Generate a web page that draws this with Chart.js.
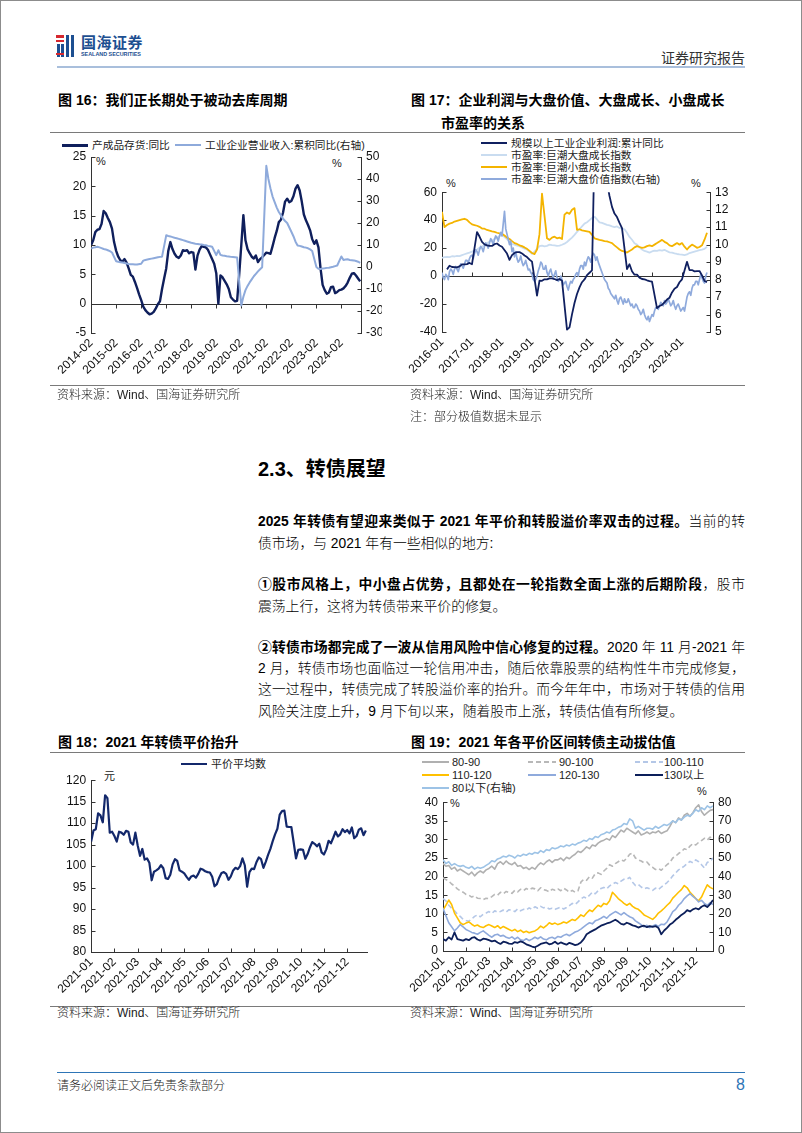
<!DOCTYPE html>
<html lang="zh-CN">
<head>
<meta charset="utf-8">
<title>转债展望</title>
<script src="https://cdn.jsdelivr.net/npm/chart.js@4.4.1/dist/chart.umd.min.js"></script>
<style>
  html, body { margin: 0; padding: 0; background: #fff; }
  body { position: relative; width: 802px; height: 1133px; overflow: hidden;
         font-family: "Liberation Sans", "Noto Sans CJK SC", sans-serif; color: #000; }
  .frame { position: absolute; left: 0; top: 0; width: 802px; height: 1133px; box-sizing: border-box; border: 1px solid #8c8c8c; }
  .t { position: absolute; white-space: nowrap; }
  .bar { position: absolute; }
  .rule { position: absolute; height: 1px; background: #7a7a7a; }
  .ttl { font-size: 14px; font-weight: bold; line-height: 18px; }
  .src { font-size: 12px; line-height: 16px; color: #222; font-weight: 300; }
  .lg { position: absolute; font-size: 10.7px; line-height: 12px; white-space: nowrap; color: #222; }
  .lg i { position: absolute; left: 0; top: 5px; height: 2px; }
  .unit { font-size: 11px; line-height: 12px; color: #222; }
  .body { position: absolute; left: 258px; width: 487px; font-size: 13.8px; line-height: 21px; font-weight: 300;
          text-align: justify; text-align-last: justify; }
  .body b { font-weight: bold; }
  .body.last { text-align-last: left; }
  .box { position: absolute; }
</style>
</head>
<body>
<div class="frame"></div>

<!-- header -->
<div class="bar" style="left:56px;top:35px;width:8px;height:2.5px;background:#d6282f"></div>
<div class="bar" style="left:56px;top:39.5px;width:8px;height:2.5px;background:#d6282f"></div>
<div class="bar" style="left:57px;top:44px;width:2.5px;height:13px;background:#1d4f91"></div>
<div class="bar" style="left:61px;top:44px;width:2.5px;height:13px;background:#1d4f91"></div>
<div class="bar" style="left:66px;top:35px;width:3px;height:22px;background:#1d4f91"></div>
<div class="bar" style="left:71px;top:35px;width:3px;height:22px;background:#1d4f91"></div>
<div class="bar" style="left:56px;top:53px;width:8px;height:2px;background:#d6282f"></div>
<div class="t" style="left:81px;top:34px;font-size:15px;line-height:18px;font-weight:bold;color:#1d4f91;letter-spacing:0.5px">国海证券</div>
<div class="t" style="left:81px;top:51px;font-size:5.4px;line-height:7px;font-weight:bold;color:#1d4f91">SEALAND SECURITIES</div>
<div class="t" style="left:661px;top:49px;font-size:14px;line-height:18px;color:#333">证券研究报告</div>
<div class="bar" style="left:57px;top:66px;width:688px;height:2px;background:#a9bfdc"></div>

<!-- figure 16 / 17 titles -->
<div class="t ttl" style="left:58px;top:91px">图 16：我们正长期处于被动去库周期</div>
<div class="t ttl" style="left:411px;top:91px">图 17：企业利润与大盘价值、大盘成长、小盘成长</div>
<div class="t ttl" style="left:441px;top:114px">市盈率的关系</div>
<div class="rule" style="left:50px;top:132px;width:695px"></div>

<!-- legend 16 -->
<div class="lg" style="left:62px;top:139px;padding-left:30px"><i style="width:26px;background:#0f1f5c;height:2.5px"></i>产成品存货:同比</div>
<div class="lg" style="left:175px;top:139px;padding-left:30px"><i style="width:26px;background:#8eaadb"></i>工业企业营业收入:累积同比(右轴)</div>
<div class="t unit" style="left:96px;top:155px">%</div>
<div class="t unit" style="left:332px;top:157px">%</div>
<div class="box" style="left:57px;top:136px"><canvas id="c16" width="325" height="250"></canvas></div>

<!-- legend 17 -->
<div class="lg" style="left:481px;top:136.5px;padding-left:30px"><i style="width:26px;background:#102060"></i>规模以上工业企业利润:累计同比</div>
<div class="lg" style="left:481px;top:148.5px;padding-left:30px"><i style="width:26px;background:#c9dcf0"></i>市盈率:巨潮大盘成长指数</div>
<div class="lg" style="left:481px;top:160.5px;padding-left:30px"><i style="width:26px;background:#f4b400"></i>市盈率:巨潮小盘成长指数</div>
<div class="lg" style="left:481px;top:172.5px;padding-left:30px"><i style="width:26px;background:#8faadc"></i>市盈率:巨潮大盘价值指数(右轴)</div>
<div class="t unit" style="left:446px;top:177px">%</div>
<div class="t unit" style="left:691px;top:177px">%</div>
<div class="box" style="left:405px;top:180px"><canvas id="c17" width="330" height="206"></canvas></div>

<div class="rule" style="left:50px;top:385px;width:695px"></div>
<div class="t src" style="left:57px;top:387px">资料来源：Wind、国海证券研究所</div>
<div class="t src" style="left:410px;top:387px">资料来源：Wind、国海证券研究所</div>
<div class="t src" style="left:410px;top:409px">注：部分极值数据未显示</div>

<!-- section text -->
<div class="t" style="left:258px;top:455px;font-size:20px;line-height:28px;font-weight:bold">2.3、转债展望</div>

<div class="body" style="top:511px"><b>2025 年转债有望迎来类似于 2021 年平价和转股溢价率双击的过程。</b>当前的转</div>
<div class="body last" style="top:532.5px">债市场，与 2021 年有一些相似的地方:</div>

<div class="body" style="top:574px"><b>①股市风格上，中小盘占优势，且都处在一轮指数全面上涨的后期阶段</b>，股市</div>
<div class="body last" style="top:595.5px">震荡上行，这将为转债带来平价的修复。</div>

<div class="body" style="top:636.5px"><b>②转债市场都完成了一波从信用风险中信心修复的过程。</b>2020 年 11 月-2021 年</div>
<div class="body" style="top:658px">2 月，转债市场也面临过一轮信用冲击，随后依靠股票的结构性牛市完成修复，</div>
<div class="body" style="top:679px">这一过程中，转债完成了转股溢价率的抬升。而今年年中，市场对于转债的信用</div>
<div class="body last" style="top:700.5px">风险关注度上升，9 月下旬以来，随着股市上涨，转债估值有所修复。</div>

<!-- figure 18 / 19 titles -->
<div class="t ttl" style="left:58px;top:732.5px">图 18：2021 年转债平价抬升</div>
<div class="t ttl" style="left:411px;top:732.5px">图 19：2021 年各平价区间转债主动拔估值</div>
<div class="rule" style="left:50px;top:752px;width:695px"></div>

<!-- legend 18 -->
<div class="lg" style="left:181px;top:757.5px;padding-left:30px;font-size:11px"><i style="width:26px;background:#13286b;height:2.5px"></i>平价平均数</div>
<div class="t unit" style="left:104px;top:770px">元</div>
<div class="box" style="left:57px;top:768px"><canvas id="c18" width="325" height="237"></canvas></div>

<!-- legend 19 -->
<div class="lg" style="left:422px;top:756px;padding-left:30px;font-size:11px"><i style="width:27px;background:#b0b0b0"></i>80-90</div>
<div class="lg" style="left:528px;top:756px;padding-left:31px;font-size:11px"><i style="width:28px;background:repeating-linear-gradient(90deg,#b8b8b8 0 5px,transparent 5px 8px)"></i>90-100</div>
<div class="lg" style="left:635px;top:756px;padding-left:29px;font-size:11px"><i style="width:28px;background:repeating-linear-gradient(90deg,#b4c7e7 0 5px,transparent 5px 8px)"></i>100-110</div>
<div class="lg" style="left:422px;top:769px;padding-left:30px;font-size:11px"><i style="width:27px;background:#ffc000"></i>110-120</div>
<div class="lg" style="left:528px;top:769px;padding-left:31px;font-size:11px"><i style="width:28px;background:#8faadc"></i>120-130</div>
<div class="lg" style="left:635px;top:769px;padding-left:29px;font-size:11px"><i style="width:28px;background:#0c1f5a"></i>130以上</div>
<div class="lg" style="left:422px;top:781.5px;padding-left:30px;font-size:11px"><i style="width:27px;background:#9dc3e6"></i>80以下(右轴)</div>
<div class="t unit" style="left:450px;top:797px">%</div>
<div class="t unit" style="left:697px;top:785px">%</div>
<div class="box" style="left:405px;top:790px"><canvas id="c19" width="330" height="215"></canvas></div>

<div class="rule" style="left:50px;top:1006px;width:695px"></div>
<div class="t src" style="left:57px;top:1005px">资料来源：Wind、国海证券研究所</div>
<div class="t src" style="left:410px;top:1005px">资料来源：Wind、国海证券研究所</div>

<!-- footer -->
<div class="bar" style="left:57px;top:1072px;width:688px;height:1px;background:#2e75b6"></div>
<div class="t src" style="left:57px;top:1078px">请务必阅读正文后免责条款部分</div>
<div class="t" style="left:736px;top:1075px;font-size:16px;line-height:20px;color:#2e75b6">8</div>

<script>
// ---------- 图16 ----------
const c16Ticks = ['2014-02', '2015-02', '2016-02', '2017-02', '2018-02', '2019-02',
  '2020-02', '2021-02', '2022-02', '2023-02', '2024-02'];
// 产成品存货:同比 (左轴), monthly from 2014-02
const invYoY = [
  10, 10.8, 12.2, 12.6, 12.7, 13.6, 15.8, 15.4, 14.6, 13.9, 12.8, 10.5,
  9, 8, 7.4, 7.2, 7.6, 7, 6, 4.9, 4.6, 3.7, 2.7, 1.6,
  0.6, -0.5, -1.1, -1.5, -1.8, -1.7, -1.4, -0.8, -0.1, 0.4, 2.5, 4.3,
  6, 9, 10.5, 9.3, 8.5, 8, 7.8, 8.2, 9.1, 9, 9.1, 8.6,
  8.8, 8.7, 5.8, 8.2, 9.2, 9.8, 9.7, 9.6, 9.2, 8.4, 7.6, 6.8,
  5.2, 0, 4.8, 4.5, 3.9, 3.3, 2.5, 1.1, 0.7, 0.4, 0.5, 5,
  10, 15.1, 10.8, 9.3, 8.6, 8, 7.7, 8.2, 7.1, 7.6, 7.9, 8.3,
  8.7, 8.6, 8.5, 9.8, 11.2, 12.4, 13.9, 14.3, 15.5, 17.4, 17.9, 17.3,
  17.5, 18.3, 19.6, 20.2, 19.3, 17.4, 15.2, 14.2, 13.4, 12.5, 11, 10.2,
  10.8, 9.6, 6, 3.2, 2.3, 1.7, 1.9, 2.8, 2.9, 1.8, 2, 2.3,
  2.4, 2.6, 3, 3.6, 4.4, 5.1, 5.2, 4.8, 4.3, 3.8
];
// 工业企业营业收入:累积同比 (右轴), January not published
const revYoY = [
  8.4, 8.8, 9, 9.2, 8.9, 8.6, 8.2, 8, 7.6, 7.2, 6.6, null,
  2.6, 2.4, 2.2, 2, 1.8, 1.6, 1.4, 1.3, 1.2, 1.1, 1.1, null,
  1.5, 2.9, 3.2, 3.4, 3.6, 3.8, 4, 4.2, 4.4, 4.6, 4.7, null,
  14.4, 14.1, 13.9, 13.6, 13.3, 13.1, 12.8, 12.5, 12.2, 11.9, 11.6, null,
  11, 10.8, 10.6, 10.5, 10.3, 10.2, 10, 9.9, 9.6, 9.4, 9.2, null,
  5.4, 7.6, 5.5, 5.2, 5.1, 4.9, 4.8, 4.6, 4.5, 4.4, 4.3, null,
  -17.5, -13.5, -10.5, -8.6, -7, -5.6, -4.2, -3.1, -2, -1, -0.1, null,
  46, 40, 35.7, 32, 29.5, 27, 25, 23.5, 22, 20.9, 20, null,
  16, 14, 11.5, 9.8, 9.6, 9.3, 9, 8.8, 8.5, 8, 7.3, null,
  0, -0.8, -0.9, -0.7, -0.6, -0.4, -0.3, -0.1, 0.1, 0.4, 0.7, null,
  4.8, 3.2, 3.4, 3.5, 3.2, 3.1, 3, 2.7, 2.4, 1.9
];

// ---------- 图17 ----------
const c17Ticks = ['2016-01', '2017-01', '2018-01', '2019-01', '2020-01',
  '2021-01', '2022-01', '2023-01', '2024-01'];
// 规模以上工业企业利润:累计同比, placed at release month (Jan not published)
const profitYoY = [
  null, null, 4.8, 7.4, 6.5, 6.4, 6.2, 6.9, 8.4, 8.4, 8.6, 9.4,
  8.5, null, 31.5, 28.3, 24.4, 22.7, 22, 21.6, 21.6, 22.8, 23.3, 21.9,
  21, null, 16.1, 11.6, 15, 16.5, 17.2, 17.1, 16.2, 14.7, 13.6, 11.8,
  10.3, null, -14, -3.3, -3.4, -2.3, -2.4, -1.7, -1.7, -2.1, -2.9, -2.1,
  -3.3, null, -38.3, -36.7, -27.4, -19.3, -12.8, -8.1, -4.4, -2.4, 0.7, 2.4,
  4.1, null, 178.9, 137.3, 106, 83.4, 66.9, 57.3, 49.5, 44.7, 42.2, 38,
  34.3, null, 5, 8.5, 3.5, 1, 1, -1.1, -2.1, -2.3, -3, -3.6,
  -4, null, -22.9, -21.4, -20.6, -18.8, -16.8, -15.5, -11.7, -9, -7.8, -4.4,
  -2.3, null, 10.2, 4.3, 4.3, 3.4, 3.6, 3.6, 0.5, -3.5, -4.3
];
const peLargeGrowth = [
  13, 13.5, 13.8, 13.6, 14.2, 14, 14.5, 14.3, 15, 15.6, 16.2, 16.8,
  17.5, 18.3, 19, 20.2, 21, 22.3, 23.5, 24.8, 25.5, 26.5, 27.6, 28.5,
  29.5, 28, 26.5, 24.5, 23, 22.5, 21.8, 21.4, 20.5, 19.6, 19, 17.5,
  16, 17.5, 19.5, 21.4, 21.8, 21.2, 21.6, 22.5, 22.2, 22, 21.6, 21.8,
  22.4, 23.2, 24.4, 26, 27.5, 29.5, 31.6, 33.5, 35.5, 37.5, 38.5, 40,
  41.5, 42.5, 40.5, 38.4, 38, 37.3, 36.6, 36.3, 35.6, 35, 35.5, 34.4,
  34, 33.5, 31, 28, 26, 23.5, 22.5, 20.5, 19, 18, 17.5, 16.8,
  17.6, 18.2, 18, 18.5, 18.2, 18.8, 17.8, 17, 16.8, 16.2, 15.8, 15.5,
  15.3, 15, 15.5, 16.5, 17, 17.5, 18, 18.6, 19, 19.5, 21
];
const peSmallGrowth = [
  46, 35, 36.5, 37.5, 38, 39, 39.5, 40, 40.5, 41, 40.2, 38.4,
  37, 36.5, 36, 35.2, 34, 33.9, 33, 32.5, 32, 31.6, 31, 30.5,
  30.2, 29, 27.5, 26.5, 25, 23.6, 23, 22, 21.4, 20.5, 19.5, 18,
  16.5, 15.7, 19, 30, 59, 43, 27, 25.9, 27.5, 28.2, 27, 27.5,
  26.5, 44, 45.5, 44.5, 47.5, 48.6, 33, 33.5, 32.7, 32.4, 32, 31.6,
  29.5, 27, 26.5, 25.9, 25.5, 25, 24.8, 24.2, 23.6, 22, 20.5, 19,
  18, 17.5, 16.8, 18, 19, 20.5, 21.4, 20.8, 20.2, 20.5, 21.4, 22,
  21.4, 22.5, 23.6, 24.8, 25.9, 24.5, 23.6, 22, 21.4, 22.5, 23.6, 22.5,
  23.6, 21, 19, 21, 22.5, 21.5, 20.2, 20.8, 22, 26, 31
];
// 巨潮大盘价值 (右轴), two readings per month
const peLargeValue = [
  8.4, 8.1, 8.0, 8.3, 8.2, 8.0, 8.45, 8.6, 8.5, 8.3, 8.6, 8.75,
  8.6, 8.45, 8.7, 8.9, 8.8, 8.65, 8.9, 9.1, 9.1, 8.95, 9.2, 9.35,
  9.4, 9.2, 9.5, 9.7, 9.6, 9.4, 9.7, 9.9, 9.8, 9.6, 9.9, 10.1,
  10, 9.8, 10.1, 10.35, 10.2, 10, 10.3, 10.5, 10.4, 10.2, 10.5, 10.7,
  10.5, 11.2, 11.9, 10.9, 10.6, 10.3, 10, 10.2, 9.6, 9.8, 9.3, 9.6,
  9.2, 9.0, 9.1, 9.35, 9, 8.8, 8.9, 9.1, 8.8, 8.55, 8.6, 8.4,
  8.3, 8.0, 7.9, 8.0, 8.2, 8.5, 8.7, 9.0, 8.9, 8.6, 8.6, 8.8,
  8.4, 8.2, 8.45, 8.6, 8.3, 8.1, 8.3, 8.5, 8.1, 7.9, 8, 8.2,
  8, 7.7, 7.8, 7.9, 7.6, 7.4, 7.7, 7.9, 7.8, 8.0, 8.1, 8.3,
  8.4, 8.2, 8.6, 8.8, 8.8, 8.6, 9, 8.8, 9.1, 9.3, 9.2, 9.0,
  9.3, 9.5, 9.4, 9.1, 9.3, 9.0, 8.8, 8.6, 8.4, 8.2, 8, 7.9,
  7.8, 7.5, 7.4, 7.2, 7.1, 7.0, 6.9, 7.1, 6.8, 6.6, 6.9, 7.0,
  6.8, 6.6, 6.9, 6.7, 6.7, 6.9, 6.7, 6.5, 6.6, 6.4, 6.4, 6.6,
  6.5, 6.3, 6.2, 6.0, 6.1, 6.3, 6, 5.8, 5.7, 5.9, 5.6, 5.8,
  6, 5.9, 6.2, 6.4, 6.4, 6.3, 6.5, 6.7, 6.6, 6.5, 6.8, 6.6,
  6.7, 6.9, 6.7, 6.5, 6.6, 6.8, 6.5, 6.3, 6.5, 6.6, 6.4, 6.2,
  6.3, 6.4, 6.2, 6.6, 7, 7.2, 7.3, 7.1, 7.5, 7.7, 7.7, 7.9,
  7.9, 7.7, 8, 8.3, 8.1, 7.9, 7.8, 8.2, 8.4
];

// ---------- 图18 / 图19 ----------
const monthTicks = ['2021-01', '2021-02', '2021-03', '2021-04', '2021-05', '2021-06',
  '2021-07', '2021-08', '2021-09', '2021-10', '2021-11', '2021-12'];
// 平价平均数, one value every 0.1 month
const parityAvg = [
  105.7, 108.3, 108.6, 112.3, 111.8, 110.2, 116.5, 115.8, 107.8, 108,
  107, 105.7, 108, 107.8, 107.3, 108.2, 108, 105.5, 105, 107.8,
  104.8, 102.4, 104, 101.5, 101.8, 100.8, 96.7, 98.7, 99, 99.4,
  100.2, 99.5, 97.2, 97, 98, 100.4, 101.6, 101.2, 99, 98.7,
  98.3, 97.5, 96.8, 97.6, 97.8, 97.3, 98.2, 99.4, 99.2, 98.8,
  98.6, 98.5, 97.5, 95.3, 95.8, 97.3, 98.4, 98.6, 98.2, 96.8,
  97.6, 99, 99.6, 99.3, 100, 101.8, 100.2, 95.2, 98.6, 99.4,
  99.3, 100.9, 102, 101.6, 99.6, 101, 102.6, 104, 105.8, 107.4,
  108.7, 112, 112.8, 112.9, 109.2, 109.1, 109.1, 105.5, 101.8, 103.8,
  103.9, 103.8, 101.7, 102.8, 104.4, 105.6, 105.2, 104.6, 105.2, 103.2,
  102.7, 103.9, 105.9, 105.3, 106.6, 108, 106.9, 107.4, 108.6, 107.9,
  108.4, 107.6, 109, 106.5, 107, 108.5, 108.8, 107.2, 108.3
];

// 转股溢价率 by parity bucket, one value every 1/8 month
const prem80to90 = [
  23.5, 22.8, 23, 22, 22.5, 21.5, 22, 21.5,
  21, 20.5, 21.2, 20.2, 21, 21.5, 21, 21.8,
  22.2, 22.8, 22, 23.5, 24, 23.3, 24.2, 23.5,
  23.2, 23.8, 22.8, 23, 22.2, 22.5, 21.9, 22.5,
  22, 23, 23.7, 23.2, 24, 24.5, 23.8, 24.5,
  24.5, 25, 24.3, 25.2, 24.8, 25.5, 26, 26.8,
  26.5, 27.2, 28, 27.5, 28.5, 28.2, 29, 29.5,
  29.8, 30.2, 29.8, 31, 30.5, 31.5, 32.5, 32,
  33, 32.5, 32, 31.5, 32.3, 31.2, 31.5, 32,
  31.5, 32, 31.8, 32.3, 31.6, 32, 32.3, 33.5,
  35, 34.5, 35.8, 35.2, 36.5, 37, 36.2, 37.2,
  38.5, 39.3, 37.5, 36.5, 37.2, 37.8, 38
];
const prem90to100 = [
  19.7, 19.2, 18.8, 18, 17.5, 16.7, 16.2, 15.8,
  15.2, 15, 14.5, 14.8, 14.2, 14.1, 13.8, 14.2,
  14.1, 14.6, 15.2, 15, 15.8, 15.4, 16, 15.7,
  15.5, 16.3, 15.9, 16.6, 16.2, 16.8, 16.4, 16.9,
  16.7, 16.2, 17, 16.5, 16.3, 15.9, 16.6, 16.3,
  16.7, 16.2, 16.9, 16.4, 15.8, 16.3, 15.8, 16.2,
  18.5, 19.3, 19, 20, 19.6, 20.8, 21, 20.6,
  21.5, 22.2, 23.2, 22.8, 23.5, 24, 24.5, 24.2,
  25, 26, 26.3, 25, 24.5, 24.2, 23.7, 23.9,
  23, 22.5, 21.9, 22.2, 21.7, 22.5, 23.2, 23.8,
  25, 25.5, 26.2, 26.7, 27.5, 27.2, 28.2, 28.9,
  28.5, 29.2, 29.7, 30.3, 29.8, 30.6, 30.2
];
const prem100to110 = [
  14.1, 13.5, 12.3, 11.5, 10.8, 9.9, 9.3, 8.5,
  8.2, 8, 8.6, 9.3, 9.7, 9.2, 9.9, 10.2,
  10.6, 10.1, 10.8, 10.4, 10.6, 11, 10.5, 11.1,
  11, 10.6, 11.3, 10.8, 11.2, 11, 11.6, 11.2,
  11.9, 11.5, 12, 11.6, 11.8, 11.3, 11.5, 11.2,
  11.5, 11.8, 11.3, 11.7, 12.2, 12.8, 12.5, 13.2,
  14, 14.5, 14.2, 15, 15.8, 15.4, 16.2, 16.8,
  17.1, 16.7, 17.5, 18, 18.4, 18.1, 18.8, 19.3,
  19.3, 19.8, 18.5, 17.6, 17.9, 17.2, 16.7, 17,
  16.7, 16.3, 16.9, 16.5, 17.2, 17.8, 18.4, 19.2,
  20.2, 21, 21.8, 22.3, 22.8, 23.5, 24.1, 23.7,
  24.5, 24, 23.2, 22.3, 23.8, 24.2, 25
];
const prem110to120 = [
  11, 12.3, 13.7, 12.5, 10.2, 8.9, 7.6, 7.1,
  7.5, 7.8, 7.2, 6.7, 7, 6.5, 6.3, 6.8,
  7.1, 6.7, 6.3, 6.8, 6.1, 6.6, 6.2, 5.8,
  5.4, 5.8, 5.2, 5.6, 5, 5.3, 4.9, 5.2,
  5.4, 5.9, 6.7, 6.2, 6.8, 7.6, 7.2, 7.5,
  7.1, 7.4, 7.8, 7.5, 8, 8.5, 8.2, 8.9,
  9.7, 9.3, 10.2, 11, 10.6, 11.5, 12.3, 11.9,
  12.8, 12.5, 13.5, 15.8, 15, 14.1, 13.5, 12.8,
  12.3, 12.8, 12, 11.5, 11.2, 10.5, 9.7, 9.3,
  8.9, 8.5, 9.2, 10.2, 10.8, 11.5, 12.3, 13,
  14.2, 15, 15.8, 16.5, 17.6, 17, 15.8, 15,
  14.1, 13.5, 14.5, 16.2, 17.8, 17.1, 16.7
];
const prem120to130 = [
  11.5, 9.5, 7.6, 6.5, 5.4, 6.2, 7.1, 6.5,
  5.8, 5.4, 5, 4.8, 4.5, 5, 5.4, 4.8,
  4.2, 3.7, 4.3, 4.5, 4, 4.2, 3.7, 3.4,
  3.8, 3.2, 3.7, 3, 2.8, 3.3, 2.8, 3.2,
  3.7, 3.3, 3.8, 3.2, 3, 3.5, 3.7, 3.3,
  3.9, 3.7, 4.2, 4.5, 4.1, 4.6, 5.1, 5.4,
  5.9, 6.5, 7.1, 7.6, 7.3, 8.1, 8.4, 8.8,
  9.3, 8.8, 9.6, 10.1, 10.6, 10.2, 9.7, 10.3,
  9.7, 9.2, 8.9, 8.1, 7.6, 7.1, 6.5, 6.9,
  6.3, 6.7, 7.1, 6.6, 7.2, 7.1, 7.8, 9.2,
  10.6, 11.2, 12.3, 13, 14.1, 14.8, 15.4, 14.7,
  14.1, 13.2, 13.6, 12.8, 12.3, 13, 12.5
];
const prem130up = [
  3.2, 2.8, 3.7, 3.1, 5, 3.2, 3, 2.8,
  3.2, 2.9, 3.5, 3.7, 3.1, 2.8, 3.3, 3.2,
  2.9, 2.6, 2.8, 2.3, 1.9, 2.5, 2.3, 2,
  1.9, 2.4, 2.2, 2.6, 2.3, 1.8, 1.5, 1.2,
  1, 1.4, 1.9, 2.1, 2.3, 1.8, 2, 2.5,
  1.9, 2.3, 2, 1.7, 2.2, 1.9, 1.6, 1.8,
  2.3, 3.2, 4.5, 5, 5.4, 5.8, 6.3, 6.8,
  7.1, 7.4, 7.6, 8, 8.4, 7.9, 7.3, 7.1,
  7.6, 7.3, 6.9, 6.7, 6.3, 6.6, 6.8, 6.4,
  6.7, 6.5, 6.7, 6.2, 4.5, 5.5, 6.2, 7.1,
  7.6, 8.4, 9, 9.7, 10.2, 11, 10.6, 11.2,
  11.5, 11.2, 11.9, 12.3, 11.8, 12.6, 13.7
];
// 80以下 (右轴)
const prem80down = [
  49, 47, 48, 46, 47, 46, 45.5, 46,
  45, 44.5, 45.5, 44, 45, 44.5, 45, 46,
  47, 48.5, 48, 49.5, 50, 51, 50.5, 51.5,
  51, 50, 51.5, 51, 52, 51.5, 52.5, 52,
  53, 52.5, 54, 53, 54.5, 54, 55.5, 55,
  55.5, 56.5, 56, 57, 56.5, 57.5, 57, 58,
  58.5, 59.5, 59, 60.5, 60, 61.5, 61, 62.5,
  63, 64, 63.5, 65, 65.5, 66.5, 67, 68.5,
  68, 71, 70, 66, 67, 66, 65, 66,
  66, 65.5, 67, 66, 67, 68, 67.5, 68.5,
  70, 69, 71, 70.5, 72, 73, 72.5, 74,
  76, 75, 77, 76, 78, 77, 78
];

// ---------- chart helpers ----------
Chart.defaults.font.family = "'Liberation Sans', Arial, 'Noto Sans CJK SC', sans-serif";
Chart.defaults.font.size = 11;
Chart.defaults.color = '#111';
Chart.defaults.animation = false;
Chart.defaults.plugins.legend.display = false;
Chart.defaults.plugins.tooltip.enabled = false;

const toXY = (vals, step) => vals.map((v, i) => ({ x: i * step, y: v }));

function series(data, color, width, yAxisID, order, extra) {
  return Object.assign({
    data, yAxisID, order, borderColor: color, borderWidth: width,
    pointRadius: 0, tension: 0, fill: false, spanGaps: true, borderJoinStyle: 'round'
  }, extra || {});
}

function yAxis(position, min, max, step, width) {
  return {
    type: 'linear', position, min, max,
    grid: { display: false, drawTicks: false },
    border: { display: false },
    ticks: { stepSize: step, padding: 5, font: { size: 12 } },
    afterFit: s => { s.width = width; }
  };
}

function xAxis(max, labels, every, height) {
  return {
    type: 'linear', min: 0, max,
    grid: { display: false, drawTicks: false },
    border: { display: false },
    ticks: { autoSkip: false, minRotation: 45, maxRotation: 45, padding: 3, font: { size: 12 },
      callback: (v, i) => labels[i] },
    afterBuildTicks: s => { s.ticks = labels.map((_, i) => ({ value: i * every })); },
    afterFit: s => { s.height = height; }
  };
}

// axis lines, inward tick marks and the base line with its category ticks
const decor = {
  id: 'decor',
  beforeDatasetsDraw(chart, args, o) {
    const { ctx, chartArea: a, scales } = chart;
    const px = v => Math.round(v) + 0.5;
    const seg = (x1, y1, x2, y2) => { ctx.beginPath(); ctx.moveTo(x1, y1); ctx.lineTo(x2, y2); ctx.stroke(); };
    ctx.save();
    ctx.strokeStyle = '#333';
    ctx.lineWidth = 1;
    [['y', a.left, 1], ['y1', a.right, -1]].forEach(([id, x, dir]) => {
      const s = scales[id];
      if (!s) return;
      seg(px(x), Math.round(a.top), px(x), Math.round(a.bottom) + 1);
      s.ticks.forEach(t => {
        const y = px(s.getPixelForValue(t.value));
        seg(px(x), y, px(x) + dir * 4, y);
      });
    });
    const yb = px(o.base == null ? a.bottom : scales.y.getPixelForValue(o.base));
    seg(Math.round(a.left), yb, Math.round(a.right) + 1, yb);
    scales.x.ticks.forEach(t => {
      const x = px(scales.x.getPixelForValue(t.value));
      seg(x, yb, x, yb + o.tickDir * 4);
    });
    ctx.restore();
  }
};

// 图16
new Chart(document.getElementById('c16'), {
  type: 'line',
  data: { datasets: [
    series(toXY(invYoY, 1), '#0f1f5c', 2.4, 'y', 1),
    series(toXY(revYoY, 1), '#8eaadb', 2, 'y1', 0)
  ] },
  options: {
    responsive: false,
    layout: { padding: { top: 21, left: 0, right: 0, bottom: 0 } },
    scales: {
      x: xAxis(129.4, c16Ticks, 12, 53),
      y: yAxis('left', -5, 25, 5, 34),
      y1: yAxis('right', -30, 50, 10, 21)
    },
    plugins: { decor: { base: 0, tickDir: 1 } }
  },
  plugins: [decor]
});

// 图17
new Chart(document.getElementById('c17'), {
  type: 'line',
  data: { datasets: [
    series(toXY(profitYoY, 1), '#102060', 1.8, 'y', 0),
    series(toXY(peLargeGrowth, 1), '#c9dcf0', 1.8, 'y', 3),
    series(toXY(peSmallGrowth, 1), '#f4b400', 1.8, 'y', 2),
    series(toXY(peLargeValue, 0.5), '#8faadc', 1.7, 'y1', 1)
  ] },
  options: {
    responsive: false,
    layout: { padding: { top: 6, left: 0, right: 0, bottom: 0 } },
    scales: {
      x: xAxis(107.2, c17Ticks, 12, 54),
      y: yAxis('left', -40, 60, 20, 37),
      y1: yAxis('right', 5, 13, 1, 25)
    },
    plugins: { decor: { base: 0, tickDir: -1 } }
  },
  plugins: [decor]
});

// 图18
new Chart(document.getElementById('c18'), {
  type: 'line',
  data: { datasets: [
    series(toXY(parityAvg, 0.1), '#13286b', 2.2, 'y', 0)
  ] },
  options: {
    responsive: false,
    layout: { padding: { top: 8, left: 0, right: 15, bottom: 0 } },
    scales: {
      x: xAxis(11.85, monthTicks, 1, 53),
      y: yAxis('left', 80, 120, 5, 34)
    },
    plugins: { decor: { tickDir: -1 } }
  },
  plugins: [decor]
});

// 图19
const dash = { borderDash: [5, 3] };
new Chart(document.getElementById('c19'), {
  type: 'line',
  data: { datasets: [
    series(toXY(prem80to90, 0.125), '#b0b0b0', 1.6, 'y', 6),
    series(toXY(prem90to100, 0.125), '#b8b8b8', 1.6, 'y', 5, dash),
    series(toXY(prem100to110, 0.125), '#b4c7e7', 1.6, 'y', 4, dash),
    series(toXY(prem110to120, 0.125), '#ffc000', 1.6, 'y', 3),
    series(toXY(prem120to130, 0.125), '#8faadc', 1.6, 'y', 2),
    series(toXY(prem130up, 0.125), '#0c1f5a', 1.8, 'y', 1),
    series(toXY(prem80down, 0.125), '#9dc3e6', 1.6, 'y1', 0)
  ] },
  options: {
    responsive: false,
    layout: { padding: { top: 7, left: 0, right: 0, bottom: 0 } },
    scales: {
      x: xAxis(11.75, monthTicks, 1, 54),
      y: yAxis('left', 0, 40, 5, 38),
      y1: yAxis('right', 0, 80, 10, 22)
    },
    plugins: { decor: { tickDir: -1 } }
  },
  plugins: [decor]
});
</script>
</body>
</html>
